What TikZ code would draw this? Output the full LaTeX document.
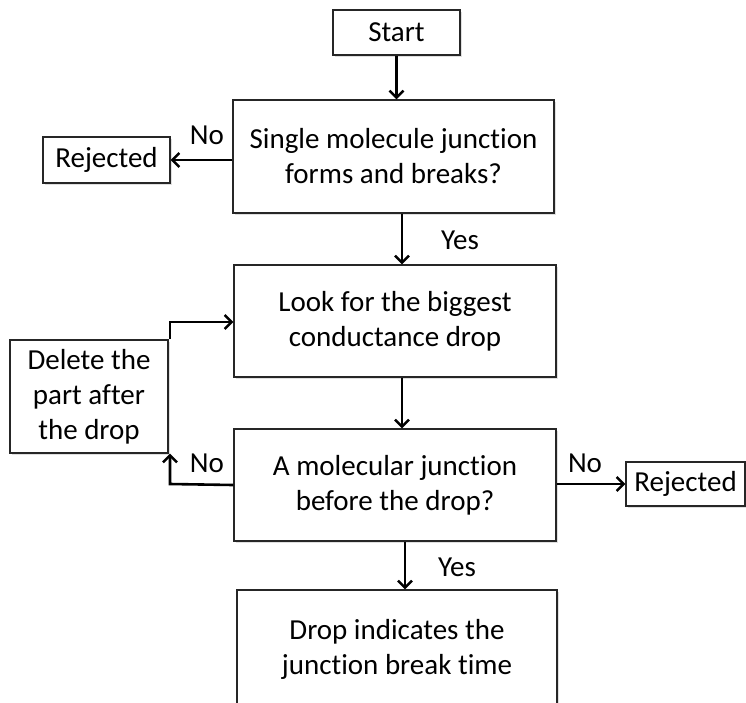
\documentclass[tikz,border=0pt]{standalone}
\usepackage{fontspec}
\setmainfont{Carlito}[Ligatures=NoCommon]
\usetikzlibrary{arrows.meta,shadows}
\begin{document}
\begin{tikzpicture}[x=1pt,y=-1pt,
  box/.style={draw=black!85, line width=1.4pt, fill=white, align=center,
    inner sep=0pt, font=\fontsize{29}{35}\selectfont,
    drop shadow={opacity=0.25, shadow xshift=1.5pt, shadow yshift=-1.5pt}},
  lbl/.style={font=\fontsize{29}{35}\selectfont, inner sep=0pt},
  arr/.style={line width=2.6pt, -{Straight Barb[length=7pt,width=14pt,line width=2.4pt]}}]
\useasboundingbox (0,0) rectangle (746,702);
\clip (0,0) rectangle (746,702);
\node[box, minimum width=127pt, minimum height=45pt] (start) at (396.5,32.5) {Start};
\node[box, minimum width=321pt, minimum height=113pt] (b1) at (393.5,156.5) {Single molecule junction\\forms and breaks?};
\node[box, minimum width=127pt, minimum height=46pt] (rej1) at (106.5,160) {Rejected};
\node[box, minimum width=322pt, minimum height=112pt] (b2) at (395,321) {Look for the biggest\\conductance drop};
\node[box, minimum width=158pt, minimum height=113pt] (del) at (89,396.5) {Delete the\\part after\\the drop};
\node[box, minimum width=322pt, minimum height=112pt] (b3) at (395,485) {A molecular junction\\before the drop?};
\node[box, minimum width=119pt, minimum height=44pt] (rej2) at (685.5,484) {Rejected};
\node[box, minimum width=320pt, minimum height=160pt] (b4) at (397,670) {};
\node[lbl, align=center] (b4t) at (397,649.5) {Drop indicates the\\junction break time};
\coordinate (c1) at (170,322);
\coordinate (c2) at (170,484);
\draw[arr] (start.south) -- (start.south |- b1.north);
\draw[arr] (b1.west |- rej1.east) -- (rej1.east);
\draw[arr] (b1.south -| 402,0) -- (b2.north -| 402,0);
\draw[arr] (b2.south -| 402,0) -- (b3.north -| 402,0);
\draw[arr] (b3.south -| 405,0) -- (b4.north -| 405,0);
\draw[arr] (b3.east |- rej2.west) -- (rej2.west);
\draw[arr] (b3.west) -- (c2) -- (del.south -| c2);
\draw[arr] (del.north -| c1) -- (c1) -- (b2.west |- c1);
\node[lbl] (no1) at (207,135) {No};
\node[lbl] (yes1) at (460,240) {Yes};
\node[lbl] (no2) at (207,463) {No};
\node[lbl] (no3) at (585,463) {No};
\node[lbl] (yes2) at (457,567) {Yes};
\end{tikzpicture}
\end{document}
